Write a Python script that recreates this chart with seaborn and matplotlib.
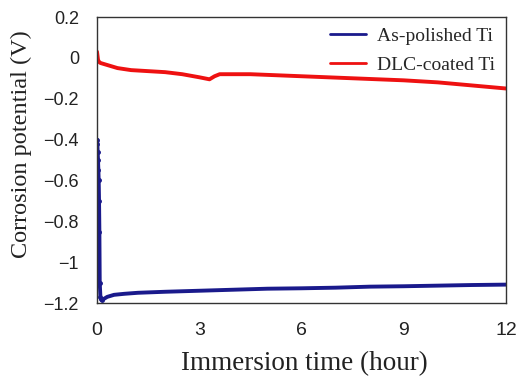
import numpy as np
import pandas as pd
import matplotlib
matplotlib.use("Agg")
import matplotlib.pyplot as plt
import seaborn as sns

# As-polished Ti
ti_time = [0.0, 0.01, 0.02, 0.03, 0.04, 0.05, 0.06, 0.07, 0.08, 0.1, 0.12, 0.15, 0.2, 0.3, 0.5, 0.8, 1.2,
           2.0, 3.0, 4.0, 5.0, 6.0, 7.0, 8.0, 9.0, 10.0, 11.0, 12.0]
ti_pot = [-0.40, -0.42, -0.46, -0.50, -0.55, -0.60, -0.70, -0.85, -1.10, -1.17, -1.18, -1.185, -1.18, -1.17,
          -1.16, -1.155, -1.15, -1.145, -1.14, -1.135, -1.13, -1.128, -1.125, -1.12, -1.118, -1.115, -1.112, -1.11]

# DLC-coated Ti
dlc_time = [0.0, 0.03, 0.06, 0.1, 0.3, 0.6, 1.0, 1.5, 2.0, 2.5, 3.0, 3.3, 3.45, 3.6, 4.5, 6.0, 7.5, 9.0, 10.0, 11.0, 12.0]
dlc_pot = [0.03, -0.01, -0.02, -0.025, -0.035, -0.05, -0.06, -0.065, -0.07, -0.08, -0.095, -0.105, -0.09, -0.08,
           -0.08, -0.09, -0.10, -0.11, -0.12, -0.135, -0.15]

df = pd.concat([
    pd.DataFrame({"t": ti_time, "E": ti_pot, "s": "As-polished Ti"}),
    pd.DataFrame({"t": dlc_time, "E": dlc_pot, "s": "DLC-coated Ti"}),
])

sns.set_style("ticks")
fig = plt.figure(figsize=(5.16, 3.78), dpi=100)
ax = fig.add_axes([97/516, 1-303/378, (506-97)/516, (303-17)/378])
sns.lineplot(data=df, x="t", y="E", hue="s", palette=["#1a1a8c", "#ee1111"], linewidth=2.8,
             sort=False, ax=ax, legend=True)
ax.plot(ti_time[:12], ti_pot[:12], 'o', color="#1a1a8c", markersize=2.5)

ax.set_xlim(0, 12)
ax.set_ylim(-1.2, 0.2)
ax.set_xticks([0, 3, 6, 9, 12])
ax.set_yticks([-1.2, -1.0, -0.8, -0.6, -0.4, -0.2, 0, 0.2])
ax.set_yticklabels(["\u22121.2", "\u22121", "\u22120.8", "\u22120.6", "\u22120.4", "\u22120.2", "0", "0.2"])
ax.tick_params(axis="both", length=0, colors="#222222")
ax.tick_params(axis="x", labelsize=14, pad=14)
ax.tick_params(axis="y", labelsize=13, pad=13)
for lab in ax.get_xticklabels() + ax.get_yticklabels():
    lab.set_fontfamily("Liberation Sans")
for sp in ax.spines.values():
    sp.set_visible(True)
    sp.set_linewidth(1.0)
    sp.set_color("#333333")
ax.set_xlabel("Immersion time (hour)", fontsize=19.5, fontfamily="Liberation Serif", color="#222222",
              va="center", ha="center")
ax.xaxis.set_label_coords(0.507, (303-364)/286)
ax.set_ylabel("Corrosion potential (V)", fontsize=17.5, fontfamily="Liberation Serif", color="#222222",
              va="center", ha="center")
ax.yaxis.set_label_coords((21-97)/409, (303-144)/286)
leg = ax.legend(loc="upper right", frameon=False, prop={"family": "Liberation Serif", "size": 14},
                handlelength=1.85, handletextpad=0.6, borderaxespad=0.45, labelspacing=0.55,
                borderpad=0.1)
for h in leg.get_lines():
    h.set_linewidth(2.0)
fig.savefig("out.png", dpi=100)
